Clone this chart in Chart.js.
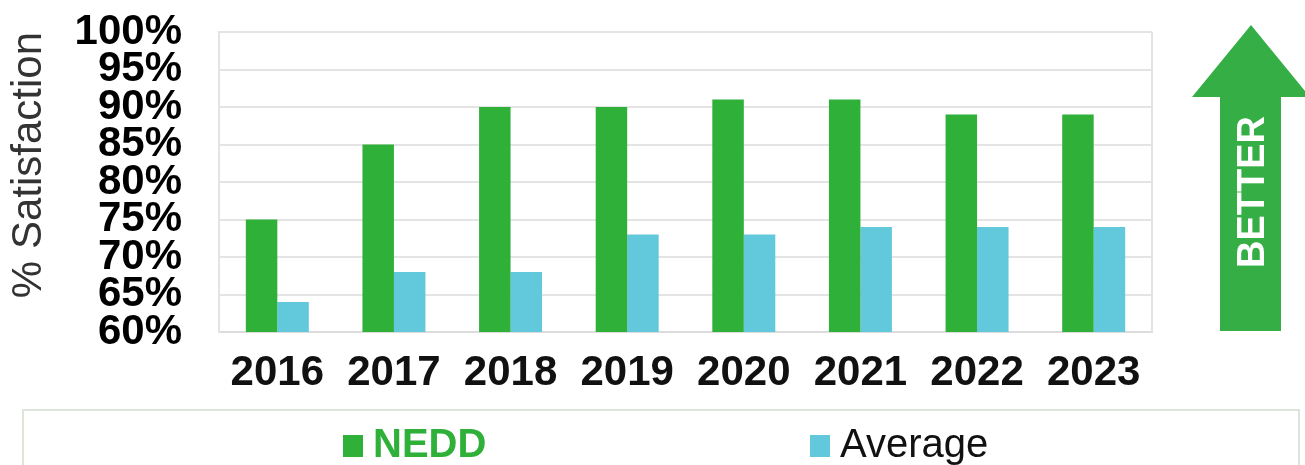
<!DOCTYPE html>
<html>
<head>
<meta charset="utf-8">
<script src="https://cdn.jsdelivr.net/npm/chart.js@4/dist/chart.umd.min.js"></script>
<style>
  html, body { margin: 0; padding: 0; background: #fff; }
  #wrap { position: relative; width: 1305px; height: 465px; overflow: hidden; font-family: "Liberation Sans", Arial, sans-serif; }
  #c { position: absolute; left: 0; top: 0; }
  #legendBox { position: absolute; left: 22px; top: 409px; width: 1278px; height: 70px; border: 2px solid #dde5da; box-sizing: border-box; }
  .lg { position: absolute; top: 423px; height: 40px; line-height: 40px; font-size: 40px; white-space: nowrap; }
  .lg .sw { position: absolute; left: 0; top: 12px; width: 20px; height: 22px; }
  .lg .tx { position: absolute; left: 30px; top: 0; }
  #arrow { position: absolute; left: 0; top: 0; pointer-events: none; }
</style>
</head>
<body>
<div id="wrap">
  <canvas id="c" width="1305" height="465"></canvas>
  <div id="legendBox"></div>
  <div id="legend"></div>
  <svg id="arrow" width="1305" height="465" xmlns="http://www.w3.org/2000/svg">
    <polygon points="1251,25 1192,97 1220,97 1220,331 1281,331 1281,97 1310,97" fill="#34ae45"/>
    <text transform="translate(1251,192) rotate(-90)" text-anchor="middle" dominant-baseline="central"
          font-family="Liberation Sans, Arial, sans-serif" font-weight="bold" font-size="38" fill="#ffffff">BETTER</text>
  </svg>
</div>
<script>
const categories = ['2016', '2017', '2018', '2019', '2020', '2021', '2022', '2023'];
const neddValues = [75, 85, 90, 90, 91, 91, 89, 89];
const averageValues = [64, 68, 68, 73, 73, 74, 74, 74];
const seriesNames = ['NEDD', 'Average'];
const yTickValues = [60, 65, 70, 75, 80, 85, 90, 95, 100];
const yTitle = '% Satisfaction';

const green = '#2fb038';
const blue = '#62c8dc';

const rightBorder = {
  id: 'rightBorder',
  afterDraw(chart) {
    const { ctx, chartArea } = chart;
    ctx.save();
    ctx.strokeStyle = '#e3e3e3';
    ctx.lineWidth = 2;
    ctx.beginPath();
    ctx.moveTo(chartArea.right, chartArea.top);
    ctx.lineTo(chartArea.right, chartArea.bottom);
    ctx.stroke();
    ctx.restore();
  }
};

const chart = new Chart(document.getElementById('c'), {
  type: 'bar',
  data: {
    labels: categories,
    datasets: [
      { label: seriesNames[0], data: neddValues, backgroundColor: green, categoryPercentage: 0.54, barPercentage: 1.0 },
      { label: seriesNames[1], data: averageValues, backgroundColor: blue, categoryPercentage: 0.54, barPercentage: 1.0 }
    ]
  },
  options: {
    responsive: false,
    animation: false,
    devicePixelRatio: 1,
    layout: { padding: { left: 0, right: 153, top: 32, bottom: 75 } },
    plugins: {
      legend: { display: false },
      tooltip: { enabled: false }
    },
    scales: {
      x: {
        grid: { display: false },
        border: { display: true, color: '#dcdcdc', width: 2 },
        afterFit(scale) { scale.height = 58; scale.paddingLeft = 0; scale.paddingRight = 0; },
        ticks: {
          color: '#111',
          padding: 8,
          maxRotation: 0,
          font: { family: 'Liberation Sans', weight: 'bold', size: 42 }
        }
      },
      y: {
        min: 60,
        max: 100,
        afterBuildTicks(scale) { scale.ticks = yTickValues.map(v => ({ value: v })); },
        afterFit(scale) { scale.width = 219; scale.paddingTop = 0; scale.paddingBottom = 0; },
        grid: { color: '#e4e4e4', lineWidth: 2, drawTicks: false },
        border: { display: true, color: '#e4e4e4', width: 2 },
        ticks: {
          autoSkip: false,
          stepSize: 5,
          padding: 37,
          color: '#000',
          font: { family: 'Liberation Sans', weight: 'bold', size: 42, lineHeight: 1.0 },
          callback: v => v + '%'
        },
        title: {
          display: true,
          text: yTitle,
          align: 'end',
          color: '#333',
          padding: { top: 4, bottom: 0 },
          font: { family: 'Liberation Sans', size: 42 }
        }
      }
    }
  },
  plugins: [rightBorder]
});

// HTML legend built from the chart's datasets
const legendPos = [343, 810];
const legendStyles = [{ color: green, weight: 'bold' }, { color: '#111', weight: 'normal' }];
const legendEl = document.getElementById('legend');
chart.data.datasets.forEach((ds, i) => {
  const item = document.createElement('div');
  item.className = 'lg';
  item.style.left = legendPos[i] + 'px';
  const sw = document.createElement('span');
  sw.className = 'sw';
  sw.style.background = ds.backgroundColor;
  const tx = document.createElement('span');
  tx.className = 'tx';
  tx.textContent = ds.label;
  tx.style.color = legendStyles[i].color;
  tx.style.fontWeight = legendStyles[i].weight;
  item.appendChild(sw);
  item.appendChild(tx);
  legendEl.appendChild(item);
});
</script>
</body>
</html>
